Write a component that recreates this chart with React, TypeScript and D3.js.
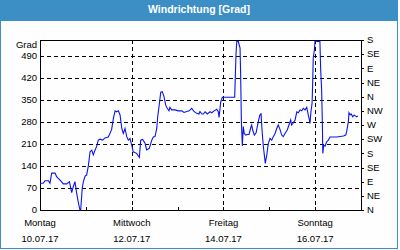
import React from "react";
import * as d3 from "d3";

// hours since 10.07.17 00:00
const hours = [
  0.0, 1.7, 2.6, 4.4, 5.2, 6.1, 7.9, 8.7, 10.5, 12.2, 14.0, 15.4, 16.6, 17.4, 18.3, 19.2, 20.0, 20.9, 21.3, 22.1,
  22.7, 23.6, 24.4, 25.3, 26.2, 27.1, 27.9, 28.8, 29.7, 30.5, 31.4, 32.8, 34.0, 35.7, 36.6, 37.5, 38.4, 39.3, 40.1, 41.0,
  41.9, 42.8, 43.6, 44.5, 45.4, 46.2, 47.1, 48.0, 48.8, 50.6, 52.0, 52.7, 53.7, 55.0, 55.8, 57.2, 58.5, 59.3, 60.2, 61.1,
  61.6, 62.5, 63.2, 64.0, 64.9, 65.8, 66.6, 67.5, 68.0, 68.9, 70.7, 72.4, 74.2, 75.4, 76.8, 78.1, 79.4, 80.6, 82.0, 83.2,
  83.7, 84.8, 85.5, 86.4, 87.6, 89.0, 89.9, 91.1, 92.5, 93.3, 93.7, 94.6, 95.1, 95.4, 101.9, 102.1, 102.6, 103.0, 103.8, 104.7,
  105.0, 105.4, 105.9, 106.4, 106.9, 107.7, 108.5, 109.4, 110.3, 110.8, 111.3, 112.2, 113.1, 113.7, 114.5, 115.1, 115.7, 116.2, 116.9, 117.4,
  117.9, 118.7, 119.5, 120.4, 121.3, 122.1, 123.0, 123.9, 124.7, 125.6, 126.5, 127.3, 128.2, 129.4, 130.3, 131.2, 131.7, 132.6, 133.5, 134.4,
  135.2, 136.1, 137.0, 137.8, 138.7, 139.6, 140.4, 141.0, 141.3, 141.8, 142.4, 142.7, 143.0, 143.6, 143.9, 146.5, 146.9, 147.4, 147.8, 148.0,
  148.5, 149.2, 150.0, 150.9, 151.8, 155.3, 158.8, 160.0, 160.5, 161.4, 161.7, 162.3, 162.8, 163.7, 164.4, 165.0, 165.8, 166.3,
];
const degrees = [
  85, 85, 93, 93, 85, 117, 117, 106, 95, 83, 83, 90, 55, 74, 90, 53, 26, 0, 0, 69,
  90, 108, 111, 140, 185, 190, 175, 190, 203, 222, 225, 222, 229, 232, 243, 256, 291, 315, 312, 315,
  302, 259, 243, 259, 233, 222, 227, 206, 185, 180, 167, 222, 224, 212, 191, 196, 222, 232, 233, 259,
  296, 339, 374, 376, 360, 333, 323, 315, 326, 318, 318, 315, 315, 310, 313, 315, 323, 313, 307, 305,
  313, 305, 305, 312, 305, 312, 309, 315, 320, 312, 294, 344, 351, 358, 358, 402, 498, 535, 535, 514,
  434, 281, 203, 265, 243, 238, 240, 240, 262, 270, 254, 238, 245, 264, 288, 302, 305, 254, 201, 175,
  148, 175, 212, 227, 222, 233, 243, 259, 270, 256, 238, 233, 243, 254, 270, 286, 270, 277, 286, 312,
  309, 318, 315, 323, 318, 326, 302, 286, 275, 312, 339, 402, 482, 508, 535, 535, 445, 381, 270, 180,
  206, 203, 216, 222, 232, 232, 235, 238, 249, 281, 309, 302, 305, 296, 302, 299, 296, 299,
];

const leftTicks = [0, 70, 140, 210, 280, 350, 420, 490];
const compassLabels = ["N", "NE", "E", "SE", "S", "SW", "W", "NW", "N", "NE", "E", "SE", "S"];
const dayLabels = ["Montag", "Mittwoch", "Freitag", "Sonntag"];
const dateLabels = ["10.07.17", "12.07.17", "14.07.17", "16.07.17"];
const title = "Windrichtung [Grad]";
const unitLabel = "Grad";

const START = new Date(2017, 6, 10).getTime();
const HOUR = 3600 * 1000;

export default function App() {
  const W = 400, H = 250;
  const left = 40, right = 361, top = 40, bottom = 210;
  const x = d3.scaleTime().domain([new Date(START), new Date(START + 168 * HOUR)]).range([left, right]);
  const y = d3.scaleLinear().domain([0, 540]).range([bottom, top]);
  const pts = hours.map((h, i) => [new Date(START + h * HOUR), degrees[i]] as [Date, number]);
  const line = d3.line<[Date, number]>().x(d => x(d[0])).y(d => y(d[1]));
  const font = "'Liberation Sans', Arial, sans-serif";
  const days = d3.range(0, 8).map(d => new Date(START + d * 24 * HOUR));
  const px = (v: number) => Math.round(v) + 0.5;

  return (
    <svg width={W} height={H} style={{ position: "absolute", left: 0, top: 0, background: "#fff" }}>
      <rect x={0} y={0} width={398} height={249} fill="#fdfefd" />
      <rect x={0} y={0} width={398} height={21} fill="#3b8fc4" />
      <text x={199} y={13} textAnchor="middle" fill="#fff" fontFamily={font} fontWeight="bold" fontSize={10.5}>{title}</text>
      <rect x={0.5} y={0.5} width={397} height={248} fill="none" stroke="#3b8fc4" />

      {/* horizontal grid */}
      {leftTicks.filter(v => v > 0).map(v => (
        <line key={"h" + v} x1={left} x2={right} y1={px(y(v))} y2={px(y(v))} stroke="#000" strokeDasharray="4,3" shapeRendering="crispEdges" />
      ))}
      {/* vertical grid */}
      {[2, 4, 6].map(d => (
        <line key={"v" + d} x1={px(x(days[d]))} x2={px(x(days[d]))} y1={top} y2={bottom} stroke="#000" strokeDasharray="4,3" shapeRendering="crispEdges" />
      ))}

      {/* frame */}
      <line x1={left} x2={right + 1} y1={top + 0.5} y2={top + 0.5} stroke="#000" shapeRendering="crispEdges" />
      <line x1={left} x2={right + 1} y1={bottom + 0.5} y2={bottom + 0.5} stroke="#000" shapeRendering="crispEdges" />
      <line x1={left + 0.5} x2={left + 0.5} y1={top} y2={bottom + 1} stroke="#000" shapeRendering="crispEdges" />
      <line x1={right + 0.5} x2={right + 0.5} y1={top} y2={bottom + 1} stroke="#000" shapeRendering="crispEdges" />

      {/* bottom ticks */}
      {days.map((d, i) => (
        <line key={"bt" + i} x1={px(x(d))} x2={px(x(d))} y1={bottom - 3} y2={bottom} stroke="#000" shapeRendering="crispEdges" />
      ))}

      {/* right ticks */}
      {compassLabels.map((c, i) => (
        <line key={"rt" + i} x1={right} x2={right + 3} y1={px(y(i * 45))} y2={px(y(i * 45))} stroke="#000" shapeRendering="crispEdges" />
      ))}

      <path d={line(pts) || ""} fill="none" stroke="#0a14f0" strokeWidth={1.1} />

      {/* left labels */}
      {leftTicks.map(v => (
        <text key={"l" + v} x={37} y={y(v)} dy="0.35em" textAnchor="end" fontFamily={font} fontSize={9.5} fill="#000">{v}</text>
      ))}
      <text x={37} y={45} dy="0.35em" textAnchor="end" fontFamily={font} fontSize={9.5} fill="#000">{unitLabel}</text>

      {/* right labels */}
      {compassLabels.map((c, i) => (
        <text key={"r" + i} x={367} y={y(i * 45)} dy="0.35em" fontFamily={font} fontSize={9.5} fill="#000">{c}</text>
      ))}

      {/* bottom labels */}
      {dayLabels.map((lab, i) => (
        <g key={"d" + i}>
          <text x={x(days[i * 2])} y={223} dy="0.35em" textAnchor="middle" fontFamily={font} fontSize={9.5} fill="#000">{lab}</text>
          <text x={x(days[i * 2])} y={239} dy="0.35em" textAnchor="middle" fontFamily={font} fontSize={9.5} fill="#000">{dateLabels[i]}</text>
        </g>
      ))}
    </svg>
  );
}
